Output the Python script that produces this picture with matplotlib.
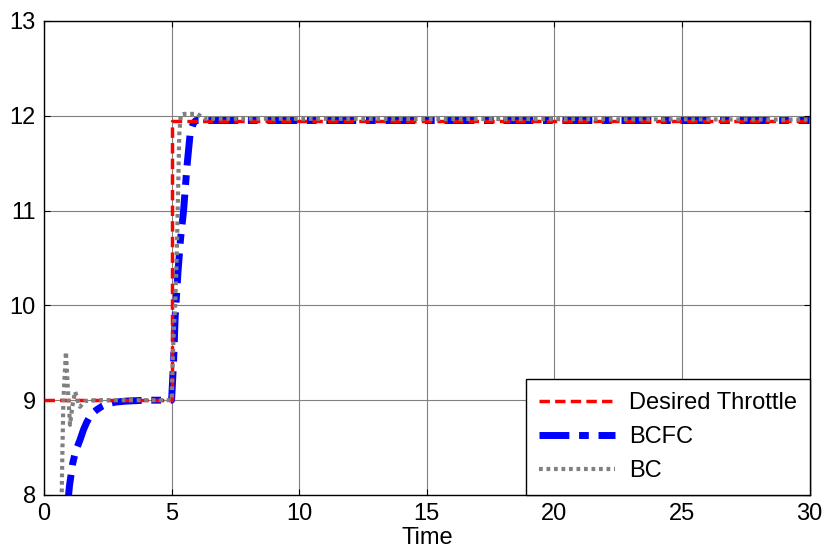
import matplotlib
matplotlib.use("Agg")
import matplotlib.pyplot as plt

# Desired Throttle
t_des = [0, 5.0, 5.0, 30]
v_des = [9.0, 9.0, 11.95, 11.95]

# BCFC
t_bcfc = [0.93, 1.0, 1.13, 1.25, 1.41, 1.55, 1.68, 1.85, 2.07, 2.3, 2.46, 2.8, 3.2, 3.6, 4.0, 5.0,
          5.08, 5.14, 5.25, 5.35, 5.47, 5.6, 5.73, 5.85, 5.95, 6.1, 6.5, 30]
v_bcfc = [7.9, 8.1, 8.34, 8.47, 8.58, 8.69, 8.77, 8.85, 8.90, 8.94, 8.96, 8.98, 8.99, 8.995, 9.0, 9.0,
          9.42, 9.88, 10.35, 10.7, 11.0, 11.46, 11.82, 11.92, 11.95, 11.95, 11.95, 11.95]

# BC
t_bc = [0.69, 0.73, 0.76, 0.86, 0.94, 1.02, 1.12, 1.22, 1.32, 1.41, 1.6, 2.0, 5.0,
        5.08, 5.14, 5.2, 5.27, 5.3, 5.36, 5.5, 6.0, 6.3, 30]
v_bc = [7.95, 8.58, 9.0, 9.51, 9.1, 8.74, 8.95, 9.09, 9.0, 8.93, 8.99, 9.0, 9.0,
        9.7, 10.0, 10.5, 11.4, 11.8, 12.01, 12.02, 12.02, 11.97, 11.96]

x_ticks = [0, 5, 10, 15, 20, 25, 30]
y_ticks = [8, 9, 10, 11, 12, 13]

plt.rcParams['font.family'] = ['Liberation Sans', 'DejaVu Sans']

fig = plt.figure(figsize=(8.22, 5.59), dpi=100)
ax = fig.add_axes([0.0535, 0.1145, 0.9315, 0.848])

ax.plot(t_des, v_des, color='red', linestyle=(0, (3, 1.5)), linewidth=2.5, label='Desired Throttle', zorder=3)
ax.plot(t_bcfc, v_bcfc, color='blue', linestyle=(0, (4.3, 1.4, 1.4, 1.4)), linewidth=5, label='BCFC', zorder=2)
ax.plot(t_bc, v_bc, color='gray', linestyle=(0, (0.9, 0.9)), linewidth=3, label='BC', zorder=4)

ax.set_xlim(0, 30)
ax.set_ylim(8, 13)
ax.set_xticks(x_ticks)
ax.set_yticks(y_ticks)
ax.grid(True, color='#808080', linewidth=0.8)
ax.tick_params(direction='in', top=True, right=True, labelsize=17, length=4, pad=6)
ax.set_xlabel('Time', fontsize=17, labelpad=1)
for s in ax.spines.values():
    s.set_linewidth(1.0)

leg = ax.legend(loc='lower right', fontsize=17, fancybox=False, framealpha=1,
                edgecolor='black', borderaxespad=0, handlelength=3.2, borderpad=0.55,
                labelspacing=0.5, handletextpad=0.6)
leg.get_frame().set_linewidth(1.0)

fig.savefig('out.png', dpi=100)
